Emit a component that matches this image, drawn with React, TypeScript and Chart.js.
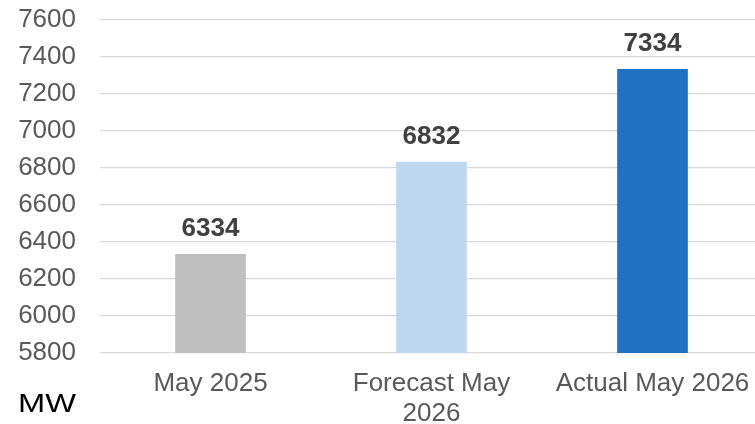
import React, { useEffect, useRef } from "react";
import { Chart, registerables } from "chart.js";

Chart.register(...registerables);

const categories: (string | string[])[] = ["May 2025", ["Forecast May", "2026"], "Actual May 2026"];
const values: number[] = [6334, 6832, 7334];
const barColors: string[] = ["#BFBFBF", "#BDD7EE", "#2070C4"];
const yMin = 5800;
const yMax = 7600;
const yStep = 200;
const unitLabel = "MW";

const FONT = "Arial, 'Liberation Sans', sans-serif";

const labelPlugin = {
  id: "valueLabels",
  afterDatasetsDraw(chart: any) {
    const ctx = chart.ctx;
    const meta = chart.getDatasetMeta(0);
    ctx.save();
    ctx.font = `bold 26px ${FONT}`;
    ctx.fillStyle = "#404040";
    ctx.textAlign = "center";
    ctx.textBaseline = "middle";
    meta.data.forEach((bar: any, i: number) => {
      ctx.fillText(String(values[i]), bar.x, bar.y - 25);
    });
    ctx.restore();
    ctx.save();
    ctx.font = `26px ${FONT}`;
    ctx.fillStyle = "#000000";
    ctx.textAlign = "center";
    ctx.textBaseline = "alphabetic";
    const w = ctx.measureText(unitLabel).width;
    const sx = 58 / w;
    ctx.translate(47, 412);
    ctx.scale(sx, 1);
    ctx.fillText(unitLabel, 0, 0);
    ctx.restore();
  },
};

export default function App() {
  const ref = useRef<HTMLCanvasElement>(null);
  useEffect(() => {
    if (!ref.current) return;
    const chart = new Chart(ref.current, {
      type: "bar",
      data: {
        labels: categories,
        datasets: [
          {
            data: values,
            backgroundColor: barColors,
            barThickness: 70,
          },
        ],
      },
      options: {
        animation: false,
        responsive: true,
        maintainAspectRatio: false,
        layout: { padding: 0 },
        plugins: { legend: { display: false }, tooltip: { enabled: false } },
        scales: {
          x: {
            grid: { display: false, drawTicks: false },
            border: { display: false },
            ticks: {
              color: "#595959",
              font: { family: FONT, size: 26, lineHeight: 1.15 },
              padding: 16,
              maxRotation: 0,
              autoSkip: false,
            },
            afterFit: (s: any) => {
              s.height = 71;
              s.paddingLeft = 0;
              s.paddingRight = 0;
            },
          },
          y: {
            min: yMin,
            max: yMax,
            grid: { color: "#D9D9D9", lineWidth: 1.3, drawTicks: false },
            border: { display: false },
            ticks: {
              stepSize: yStep,
              color: "#595959",
              font: { family: FONT, size: 26 },
              padding: 24,
              callback: (v: any) => String(v),
            },
            afterFit: (s: any) => {
              s.width = 100;
              s.paddingTop = 20;
              s.paddingBottom = 0;
            },
          },
        },
      },
      plugins: [labelPlugin],
    });
    return () => chart.destroy();
  }, []);
  return (
    <div style={{ position: "fixed", left: 0, top: 0, width: 763, height: 424 }}>
      <canvas ref={ref} />
    </div>
  );
}
